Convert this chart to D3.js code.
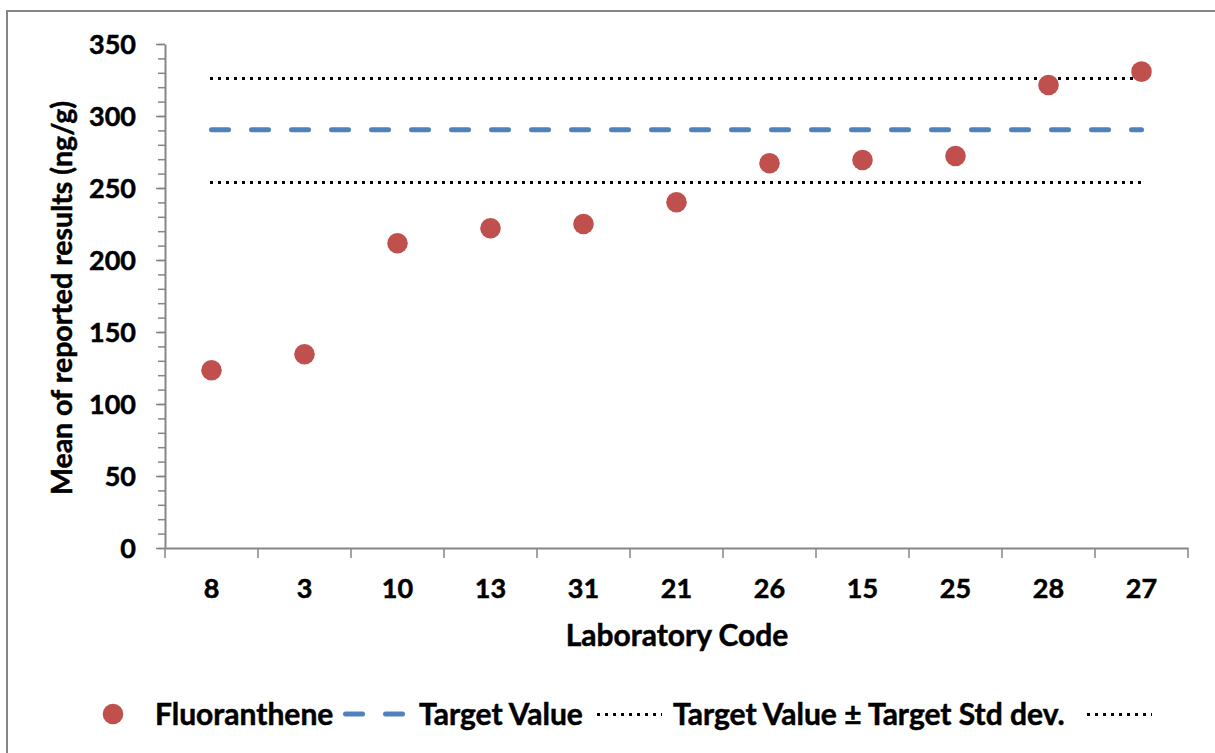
<!DOCTYPE html>
<html>
<head>
<meta charset="utf-8">
<script src="https://cdn.jsdelivr.net/npm/d3@7"></script>
<style>
  html, body { margin: 0; padding: 0; background: #ffffff; }
  svg { display: block; }
  text { font-family: Lato, "Open Sans", sans-serif; font-weight: 700; fill: #000; stroke: #000; stroke-width: 0.5; }
</style>
</head>
<body>
<svg id="chart" width="1215" height="753"></svg>
<script>
// Laboratory codes, in plotting order
const labCodes = ["8", "3", "10", "13", "31", "21", "26", "15", "25", "28", "27"];
// Mean of reported results (ng/g) for Fluoranthene
const fluoranthene = [123.4, 134.5, 211.6, 222.0, 225.0, 240.1, 267.2, 269.4, 272.2, 321.5, 330.8];
// Assigned value and its standard deviation
const targetValue = 290.4;
const targetStdDev = 36.2;
// Y axis tick labels
const yTicks = [0, 50, 100, 150, 200, 250, 300, 350];
const yMinorTicks = d3.range(0, 351, 10);

const svg = d3.select("#chart");
const W = 1215, H = 753;
const plot = { left: 165, right: 1188, top: 44, bottom: 548 };
const axisGrey = "#868686";
const tickFont = 27;
const titleFont = 30;
const yTitleFont = 28.5;

// outer chart frame
svg.append("rect")
  .attr("x", 7).attr("y", 11)
  .attr("width", W + 20).attr("height", H + 20)
  .attr("fill", "#fff").attr("stroke", axisGrey).attr("stroke-width", 2);

const x = d3.scaleBand().domain(labCodes).range([plot.left, plot.right]).padding(0);
const y = d3.scaleLinear().domain([0, 350]).range([plot.bottom, plot.top]);
const cx = d => x(d) + x.bandwidth() / 2;

// y axis: minor ticks
svg.append("g")
  .attr("transform", `translate(${plot.left},0)`)
  .call(d3.axisLeft(y).tickValues(yMinorTicks).tickSize(7).tickFormat(""))
  .call(g => g.select(".domain").remove())
  .call(g => g.selectAll("line").attr("stroke", axisGrey).attr("stroke-width", 1.5));

// y axis: major ticks and labels
svg.append("g")
  .attr("transform", `translate(${plot.left},0)`)
  .call(d3.axisLeft(y).tickValues(yTicks).tickSize(9).tickSizeOuter(0).tickPadding(20))
  .call(g => g.select(".domain").attr("stroke", axisGrey).attr("stroke-width", 2))
  .call(g => g.selectAll("line").attr("stroke", axisGrey).attr("stroke-width", 1.5))
  .call(g => g.selectAll("text")
    .attr("font-size", tickFont).attr("font-family", "Lato").attr("font-weight", 700)
    .attr("fill", "#000").attr("dy", "0.36em"));

// x axis: line, category labels
svg.append("g")
  .attr("transform", `translate(0,${plot.bottom})`)
  .call(d3.axisBottom(x).tickSize(0).tickSizeOuter(0).tickPadding(40))
  .call(g => g.select(".domain").attr("stroke", axisGrey).attr("stroke-width", 2))
  .call(g => g.selectAll("text")
    .attr("font-size", tickFont).attr("font-family", "Lato").attr("font-weight", 700)
    .attr("fill", "#000").attr("dy", "0.36em"));

// x axis: ticks on category boundaries
const boundaries = labCodes.map(d => x(d)).concat([x.range()[1]]);
svg.append("g").selectAll("line")
  .data(boundaries).join("line")
  .attr("x1", d => d).attr("x2", d => d)
  .attr("y1", plot.bottom).attr("y2", plot.bottom + 10)
  .attr("stroke", axisGrey).attr("stroke-width", 1.5);

// axis titles
svg.append("text")
  .attr("transform", `translate(72,298) rotate(-90)`)
  .attr("text-anchor", "middle")
  .attr("font-size", yTitleFont)
  .text("Mean of reported results (ng/g)");

svg.append("text")
  .attr("x", 677)
  .attr("y", 646)
  .attr("text-anchor", "middle")
  .attr("font-size", titleFont)
  .text("Laboratory Code");

// reference lines
const xStart = cx(labCodes[0]);
const xEnd = cx(labCodes[labCodes.length - 1]);
const snap = v => Math.round(y(v)) + 0.5;

[targetValue - targetStdDev, targetValue + targetStdDev].forEach(v => {
  svg.append("line")
    .attr("x1", xStart - 2).attr("x2", xEnd)
    .attr("y1", snap(v)).attr("y2", snap(v))
    .attr("stroke", "#000").attr("stroke-width", 3)
    .attr("stroke-dasharray", "3,5").attr("shape-rendering", "crispEdges");
});

svg.append("line")
  .attr("x1", xStart).attr("x2", xEnd)
  .attr("y1", y(targetValue)).attr("y2", y(targetValue))
  .attr("stroke", "#4F81BD")
  .attr("stroke-width", 5).attr("stroke-linecap", "round")
  .attr("stroke-dasharray", "17,23");

// data points
svg.append("g").selectAll("circle")
  .data(labCodes.map((c, i) => ({ code: c, value: fluoranthene[i] })))
  .join("circle")
  .attr("cx", d => cx(d.code))
  .attr("cy", d => y(d.value))
  .attr("r", 10.3)
  .attr("fill", "#C0504D");

// legend
const legendY = 714;
const legend = svg.append("g");
legend.append("circle").attr("cx", 113).attr("cy", legendY).attr("r", 10.3).attr("fill", "#C0504D");
legend.append("text").attr("x", 155).attr("y", legendY).attr("dy", "0.36em")
  .attr("font-size", titleFont).text("Fluoranthene");

legend.append("line")
  .attr("x1", 345.5).attr("x2", 403).attr("y1", legendY).attr("y2", legendY)
  .attr("stroke", "#4F81BD").attr("stroke-width", 5).attr("stroke-linecap", "round")
  .attr("stroke-dasharray", "17,23");
legend.append("text").attr("x", 419).attr("y", legendY).attr("dy", "0.36em")
  .attr("font-size", titleFont).text("Target Value");

legend.append("line")
  .attr("x1", 597).attr("x2", 662).attr("y1", legendY + 0.5).attr("y2", legendY + 0.5)
  .attr("stroke", "#000").attr("stroke-width", 3).attr("stroke-dasharray", "3,5")
  .attr("shape-rendering", "crispEdges");
legend.append("text").attr("x", 673).attr("y", legendY).attr("dy", "0.36em")
  .attr("font-size", titleFont).text("Target Value \u00B1 Target Std dev.");

legend.append("line")
  .attr("x1", 1087).attr("x2", 1152).attr("y1", legendY + 0.5).attr("y2", legendY + 0.5)
  .attr("stroke", "#000").attr("stroke-width", 3).attr("stroke-dasharray", "3,5")
  .attr("shape-rendering", "crispEdges");
</script>
</body>
</html>
